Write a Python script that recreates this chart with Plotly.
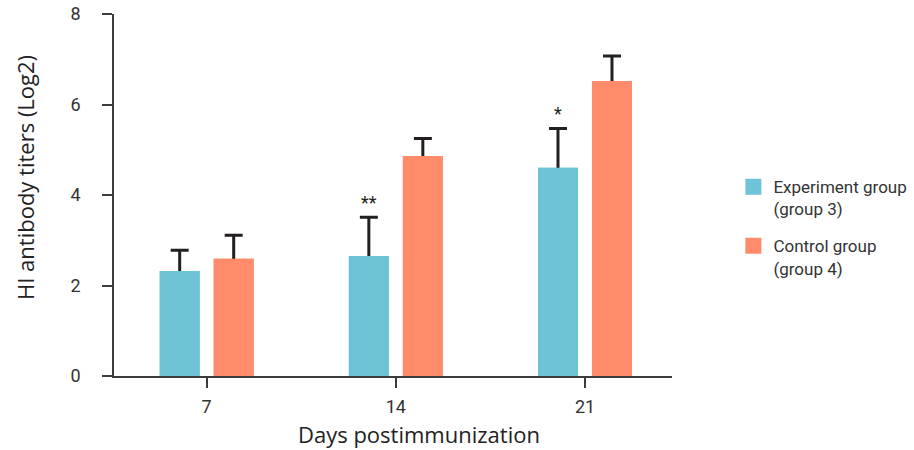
import plotly.graph_objects as go

days = ["7", "14", "21"]
experiment = [2.32, 2.65, 4.60]
experiment_err = [0.46, 0.86, 0.87]
control = [2.59, 4.86, 6.52]
control_err = [0.52, 0.39, 0.55]
significance = ["", "**", "*"]

names = ["Experiment group<br>(group 3)", "Control group<br>(group 4)"]
x_title = "Days postimmunization"
y_title = "HI antibody titers (Log2)"
colors = ["#6EC3D6", "#FF8B6A"]
ink = "#231f20"
axis_col = "#3c3c3c"

BARGAP = 0.429
BARGROUPGAP = 0.26

fig = go.Figure()

series = [(experiment, experiment_err), (control, control_err)]
# bars carrying the error bars (symmetric; lower half hidden by cover bars)
for i, (vals, errs) in enumerate(series):
    fig.add_trace(go.Bar(
        x=days, y=vals, offsetgroup=str(i), marker_color=colors[i],
        marker_line_width=0, showlegend=False, hoverinfo="skip",
        error_y=dict(type="data", array=errs, symmetric=True,
                     color=ink, thickness=3, width=9),
    ))
# cover bars drawn on top to hide the lower half of each error bar
for i, (vals, errs) in enumerate(series):
    fig.add_trace(go.Bar(
        x=days, y=vals, offsetgroup=str(i), marker_color=colors[i],
        marker_line_width=0, showlegend=False, name=names[i],
    ))
# legend entries
for i in range(2):
    fig.add_trace(go.Scatter(
        x=[None], y=[None], mode="markers", name=names[i],
        legendgroup="g%d" % i,
        marker=dict(symbol="square", size=16, color=colors[i]),
    ))

slot = (1 - BARGAP) / 2
for i, s in enumerate(significance):
    if s:
        fig.add_annotation(
            x=i - slot / 2, y=experiment[i] + experiment_err[i],
            xref="x", yref="y", text=s, showarrow=False,
            yanchor="bottom", yshift=2,
            font=dict(family="Roboto", size=18, color=ink),
        )

# axis titles
fig.add_annotation(
    x=0.547, y=0, xref="paper", yref="paper", text=x_title,
    showarrow=False, xanchor="center", yanchor="middle", yshift=-58,
    font=dict(family="Open Sans", size=22, color="#222222"),
)
fig.add_annotation(
    x=0, y=0.547, xref="paper", yref="paper", text=y_title, textangle=-90,
    showarrow=False, xanchor="center", yanchor="middle", xshift=-89,
    font=dict(family="Open Sans", size=22, color="#222222"),
)

fig.update_layout(
    width=914, height=450,
    margin=dict(l=114, r=242, t=14, b=74, autoexpand=False),
    paper_bgcolor="white", plot_bgcolor="white",
    barmode="group", bargap=BARGAP, bargroupgap=BARGROUPGAP,
    font=dict(family="Roboto", color="#333333"),
    legend=dict(
        x=1.11, xanchor="left", y=0.41, yanchor="middle",
        font=dict(family="Roboto", size=17, color="#333333"),
        valign="top", traceorder="grouped", tracegroupgap=12,
        bgcolor="rgba(0,0,0,0)",
    ),
    showlegend=True,
)
fig.update_xaxes(
    type="category", range=[-0.49, 2.46], automargin=False,
    showline=True, linecolor=axis_col, linewidth=1.5,
    ticks="outside", ticklen=10, tickwidth=1.5, tickcolor=axis_col,
    tickfont=dict(family="Roboto", size=18, color="#333333"),
    ticklabelstandoff=4,
    showgrid=False, zeroline=False,
)
fig.update_yaxes(
    range=[0, 8], dtick=2, tick0=0, automargin=False,
    showline=True, linecolor=axis_col, linewidth=1.5,
    ticks="outside", ticklen=10, tickwidth=1.5, tickcolor=axis_col,
    tickfont=dict(family="Roboto", size=18, color="#333333"),
    ticklabelstandoff=18,
    showgrid=False, zeroline=False,
)

fig.write_html("out.html")
